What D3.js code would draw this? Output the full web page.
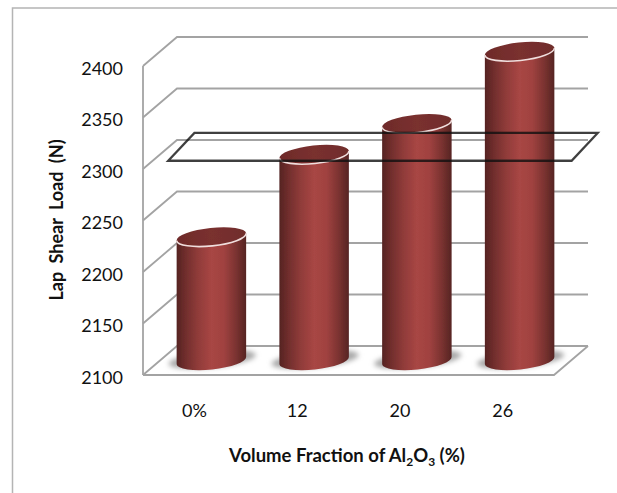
<!DOCTYPE html>
<html>
<head>
<meta charset="utf-8">
<script src="https://cdn.jsdelivr.net/npm/d3@7"></script>
<style>
  html, body { margin: 0; padding: 0; background: #fff; }
  text { font-family: Lato, "Open Sans", sans-serif; fill: #111; }
</style>
</head>
<body>
<script>
let width = 617;
let height = 493;

// values
let categories = ["0%", "12", "20", "26"];
let loads = [2220, 2300, 2330, 2400];
let loadTicks = [2100, 2150, 2200, 2250, 2300, 2350, 2400];

// the hand drawn box around the 2300 level: category position, load
let boxCats = [-0.42, 3.506, 3.76, -0.165];
let boxLoads = [2308, 2308, 2335, 2335];

let svg = d3.select("body").append("svg")
            .attr("width", width)
            .attr("height", height)
            .style("display", "block");

let depthX = 34;   // how far the back wall is shifted from the front
let depthY = 29;
let tilt = -6;     // tilt of the cylinder ellipses, degrees
let ry = 9;

let x = d3.scaleBand().domain(categories).range([143, 554]).paddingInner(0.32).paddingOuter(0.16);
let y = d3.scaleLinear().domain([2100, 2400]).range([375, 66]);
let rx = x.bandwidth() / 2;

function barX(d) { return x(d) + rx + depthX / 2; }
function barY(v) { return y(v) - depthY / 2; }
// continuous position along the category axis, used for the box
let catPos = d3.scaleLinear().domain([0, 3]).range([barX(categories[0]), barX(categories[3])]);

let defs = svg.append("defs");

let side = defs.append("linearGradient").attr("id", "side");
[[0, "#552322"], [0.12, "#6f2d2c"], [0.3, "#8f3b39"], [0.5, "#a84644"],
 [0.68, "#a04240"], [0.85, "#7c3331"], [1, "#562523"]].forEach(function (s) {
  side.append("stop").attr("offset", s[0]).attr("stop-color", s[1]);
});

let lid = defs.append("linearGradient").attr("id", "lid");
[[0, "#6e2b2a"], [0.5, "#7a302f"], [1, "#702d2c"]].forEach(function (s) {
  lid.append("stop").attr("offset", s[0]).attr("stop-color", s[1]);
});

defs.append("filter").attr("id", "soft")
    .append("feGaussianBlur").attr("stdDeviation", 0.45);
defs.append("filter").attr("id", "shadow")
    .attr("x", "-20%").attr("width", "140%").attr("y", "-50%").attr("height", "200%")
    .append("feGaussianBlur").attr("stdDeviation", 2.5);

// picture frame, only top and left survive in the crop
svg.append("path")
   .attr("d", d3.line()([[12.5, height], [12.5, 8], [width, 8]]))
   .attr("fill", "none")
   .attr("stroke", "#b4b4b4")
   .attr("stroke-width", 1.5);

let grid = svg.append("g")
              .attr("filter", "url(#soft)")
              .attr("fill", "none")
              .attr("stroke", "#a3a3a3")
              .attr("stroke-width", 1.8);

// side wall and back wall lines
grid.selectAll("path.wall").data(loadTicks).enter().append("path")
    .attr("class", "wall")
    .attr("d", function (d) {
      return d3.line()([
        [x.range()[0], y(d)],
        [x.range()[0] + depthX, y(d) - depthY],
        [x.range()[1] + depthX, y(d) - depthY]
      ]);
    });

// front vertical axis
grid.append("line")
    .attr("x1", x.range()[0]).attr("x2", x.range()[0])
    .attr("y1", y(2400)).attr("y2", y(2100));

// floor front edge and right edge
grid.append("path")
    .attr("d", d3.line()([
      [x.range()[0], y(2100)],
      [x.range()[1], y(2100)],
      [x.range()[1] + depthX, y(2100) - depthY]
    ]));

// tick labels
let yAxis = svg.append("g")
               .attr("transform", "translate(130,2.5)")
               .call(d3.axisLeft(y).tickValues(loadTicks).tickSize(0).tickPadding(7).tickFormat(d3.format("d")));
yAxis.select(".domain").remove();
yAxis.selectAll("text").style("font-size", "18px").attr("fill", "#1a1a1a");

let xAxis = svg.append("g")
               .attr("transform", "translate(0,404)")
               .call(d3.axisBottom(x).tickSize(0).tickPadding(0));
xAxis.select(".domain").remove();
xAxis.selectAll("text").style("font-size", "18px").attr("fill", "#1a1a1a");

// floor shadows go under the cylinders
svg.selectAll("ellipse.shadow").data(categories).enter().append("ellipse")
   .attr("class", "shadow")
   .attr("cx", function (d) { return barX(d) + 1; })
   .attr("cy", barY(2100) - 1)
   .attr("rx", rx + 9)
   .attr("ry", ry - 1)
   .attr("fill", "#a8a8a8")
   .attr("transform", function (d) { return "rotate(" + tilt + "," + barX(d) + "," + barY(2100) + ")"; })
   .attr("filter", "url(#shadow)");

let bars = svg.selectAll("g.bar").data(categories).enter().append("g")
              .attr("class", "bar")
              .attr("filter", "url(#soft)");

let dx = function () { return rx * Math.cos(tilt * Math.PI / 180); };
let dy = function () { return rx * Math.sin(tilt * Math.PI / 180); };

bars.append("path")
    .attr("fill", "url(#side)")
    .attr("d", function (d, i) {
      let cx = barX(d), top = barY(loads[i]), base = barY(2100);
      return "M" + (cx - dx()) + "," + (top - dy())
           + "L" + (cx - dx()) + "," + (base - dy())
           + "A" + rx + "," + ry + " " + tilt + " 0 0 " + (cx + dx()) + "," + (base + dy())
           + "L" + (cx + dx()) + "," + (top + dy()) + "Z";
    });

bars.append("ellipse")
    .attr("cx", barX)
    .attr("cy", function (d, i) { return barY(loads[i]); })
    .attr("rx", rx)
    .attr("ry", ry)
    .attr("fill", "url(#lid)")
    .attr("transform", function (d, i) { return "rotate(" + tilt + "," + barX(d) + "," + barY(loads[i]) + ")"; });

// pale rim on the front of each lid
bars.append("path")
    .attr("fill", "none")
    .attr("stroke", "#f0dedd")
    .attr("stroke-width", 1.6)
    .attr("d", function (d, i) {
      let cx = barX(d), top = barY(loads[i]);
      return "M" + (cx - dx()) + "," + (top - dy())
           + "A" + rx + "," + ry + " " + tilt + " 0 0 " + (cx + dx()) + "," + (top + dy());
    });

// the box drawn over the chart
let boxPoints = boxCats.map(function (c, i) { return [catPos(c), y(boxLoads[i])]; });
svg.append("path")
   .attr("d", d3.line().curve(d3.curveLinearClosed)(boxPoints))
   .attr("fill", "none")
   .attr("stroke", "#111")
   .attr("stroke-opacity", 0.8)
   .attr("stroke-width", 2.3)
   .attr("filter", "url(#soft)");

// axis titles
svg.append("text")
   .attr("transform", "translate(63,220) rotate(-90)")
   .attr("text-anchor", "middle")
   .style("font-size", "18px")
   .style("font-weight", "700")
   .style("word-spacing", "4px")
   .text("Lap Shear Load (N)");

let xTitle = svg.append("text")
                .attr("x", 347)
                .attr("y", 462)
                .attr("text-anchor", "middle")
                .style("font-size", "18.5px")
                .style("font-weight", "700");
xTitle.append("tspan").text("Volume Fraction of Al");
xTitle.append("tspan").attr("dy", 4).style("font-size", "12px").text("2");
xTitle.append("tspan").attr("dy", -4).text("O");
xTitle.append("tspan").attr("dy", 4).style("font-size", "12px").text("3");
xTitle.append("tspan").attr("dy", -4).text(" (%)");
</script>
</body>
</html>
